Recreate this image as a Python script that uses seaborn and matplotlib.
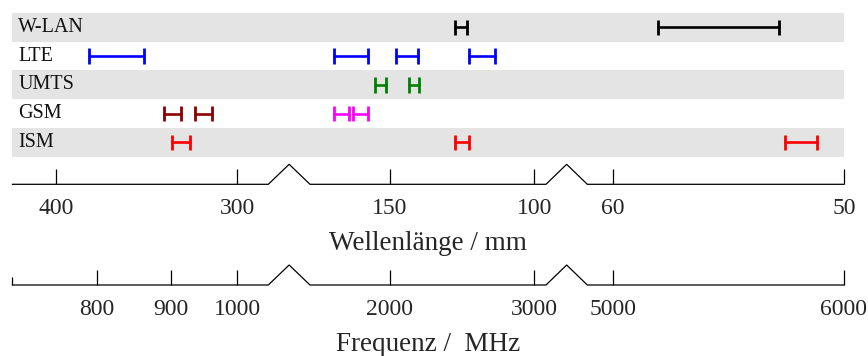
import numpy as np
import pandas as pd
import matplotlib
matplotlib.use("Agg")
import matplotlib.pyplot as plt
import seaborn as sns

# Frequency bands in MHz (lower, upper)
bands = ['W-LAN', 'LTE', 'UMTS', 'GSM', 'ISM']
wlan_mhz = [(2400, 2483.5), (5180, 5700)]
lte_mhz = [(791, 862), (1710, 1880), (2035, 2165), (2500, 2690)]
umts_mhz = [(1920, 1980), (2110, 2170)]
gsm900_mhz = [(890, 915), (935, 960)]
gsm1800_mhz = [(1710, 1785), (1805, 1880)]
ism_mhz = [(902, 928), (2400, 2500), (5725, 5875)]

# tick labels
freq_ticks = [800, 900, 1000, 2000, 3000, 5000, 6000]
wavelength_ticks = [400, 300, 150, 100, 60, 50]   # mm
c_mm_mhz = 300000

# broken axis: log segments [700-1050], [1600-3100], [4900-6000]
seg_knots = [700, 1050, 1600, 3100, 4900, 6000]
seg_pixels = [0, 256, 297.7, 533.7, 575, 831.7]

groups = [
    ('W-LAN', wlan_mhz, 'black'),
    ('LTE', lte_mhz, '#0000ff'),
    ('UMTS', umts_mhz, '#008000'),
    ('GSM', gsm900_mhz, '#8b0000'),
    ('GSM', gsm1800_mhz, '#ff00ff'),
    ('ISM', ism_mhz, '#ff0000'),
]

rows = []
palette = {}
seg_id = 0
for band, ranges, color in groups:
    for lo, hi in ranges:
        for f in (lo, hi):
            rows.append({'band': band, 'row': bands.index(band), 'freq': f, 'seg': seg_id})
        palette[seg_id] = color
        seg_id += 1
df = pd.DataFrame(rows)

ln_knots = np.log(seg_knots)


def fwd(f):
    f = np.clip(np.asarray(f, dtype=float), 1e-9, None)
    return np.interp(np.log(f), ln_knots, seg_pixels)


def inv(u):
    return np.exp(np.interp(np.asarray(u, dtype=float), seg_pixels, ln_knots))


sns.set_theme(style='white')
plt.rcParams['font.family'] = ['Liberation Serif', 'DejaVu Serif']
plt.rcParams['text.color'] = '#111111'

W, H = 868, 356
fig = plt.figure(figsize=(W / 100, H / 100), dpi=100)
x0, x1 = 12.3, 844


def add_ax(top, bottom):
    return fig.add_axes([x0 / W, 1 - bottom / H, (x1 - x0) / W, (bottom - top) / H])


# --- band chart ---
ax = add_ax(13, 156.7)
ax.set_xscale('function', functions=(fwd, inv))
for i in range(len(bands)):
    if i % 2 == 0:
        ax.axhspan(i - 0.5, i + 0.5, color='#e4e4e4', lw=0, zorder=0)
    ax.text(6 / (x1 - x0), i, bands[i], transform=ax.get_yaxis_transform(),
            ha='left', va='center', fontsize=14.5)

sns.lineplot(data=df, x='freq', y='row', units='seg', estimator=None, hue='seg',
             palette=palette, legend=False, linewidth=1.9, ax=ax)
sns.scatterplot(data=df, x='freq', y='row', hue='seg', palette=palette, marker='|',
                s=125, linewidth=2.0, legend=False, ax=ax)
ax.set_xlim(seg_knots[0], seg_knots[-1])
ax.set_ylim(len(bands) - 0.5, -0.5)
ax.set_axis_off()


# --- broken axes (wavelength and frequency) ---
def broken_axis(ax, ticks, labels, xlabel):
    ax.set_xscale('function', functions=(fwd, inv))
    ax.set_xlim(seg_knots[0], seg_knots[-1])
    ax.set_ylim(0, 1)
    xs, ys = [seg_knots[0]], [0]
    for a, b in [(seg_knots[1], seg_knots[2]), (seg_knots[3], seg_knots[4])]:
        peak = inv((fwd(a) + fwd(b)) / 2)
        xs += [a, float(peak), b]
        ys += [0, 0.8, 0]
    xs.append(seg_knots[-1])
    ys.append(0)
    ax.plot(xs, ys, color='black', lw=0.9, solid_joinstyle='miter', clip_on=False)
    for s in ax.spines.values():
        s.set_visible(False)
    ax.set_yticks([])
    ax.set_xticks(ticks)
    ax.set_xticklabels(labels)
    ax.xaxis.set_minor_locator(matplotlib.ticker.NullLocator())
    ax.tick_params(axis='x', which='major', direction='in', length=10.8, width=0.9,
                   color='black', pad=10, labelsize=17, bottom=True)
    ax.set_xlabel(xlabel, fontsize=19.5, labelpad=8.5)
    ax.set_facecolor('none')


ax_wl = add_ax(159.3, 184.3)
broken_axis(ax_wl, [c_mm_mhz / w for w in wavelength_ticks],
            [str(w) for w in wavelength_ticks], 'Wellenlänge / mm')

ax_f = add_ax(260, 285)
broken_axis(ax_f, freq_ticks, [str(f) for f in freq_ticks], 'Frequenz /  MHz')
ax_f.set_xticks([seg_knots[0]], minor=True)
ax_f.tick_params(axis='x', which='minor', direction='in', length=5.5, width=0.9,
                 color='black', bottom=True)

fig.savefig('out.png', dpi=100)
